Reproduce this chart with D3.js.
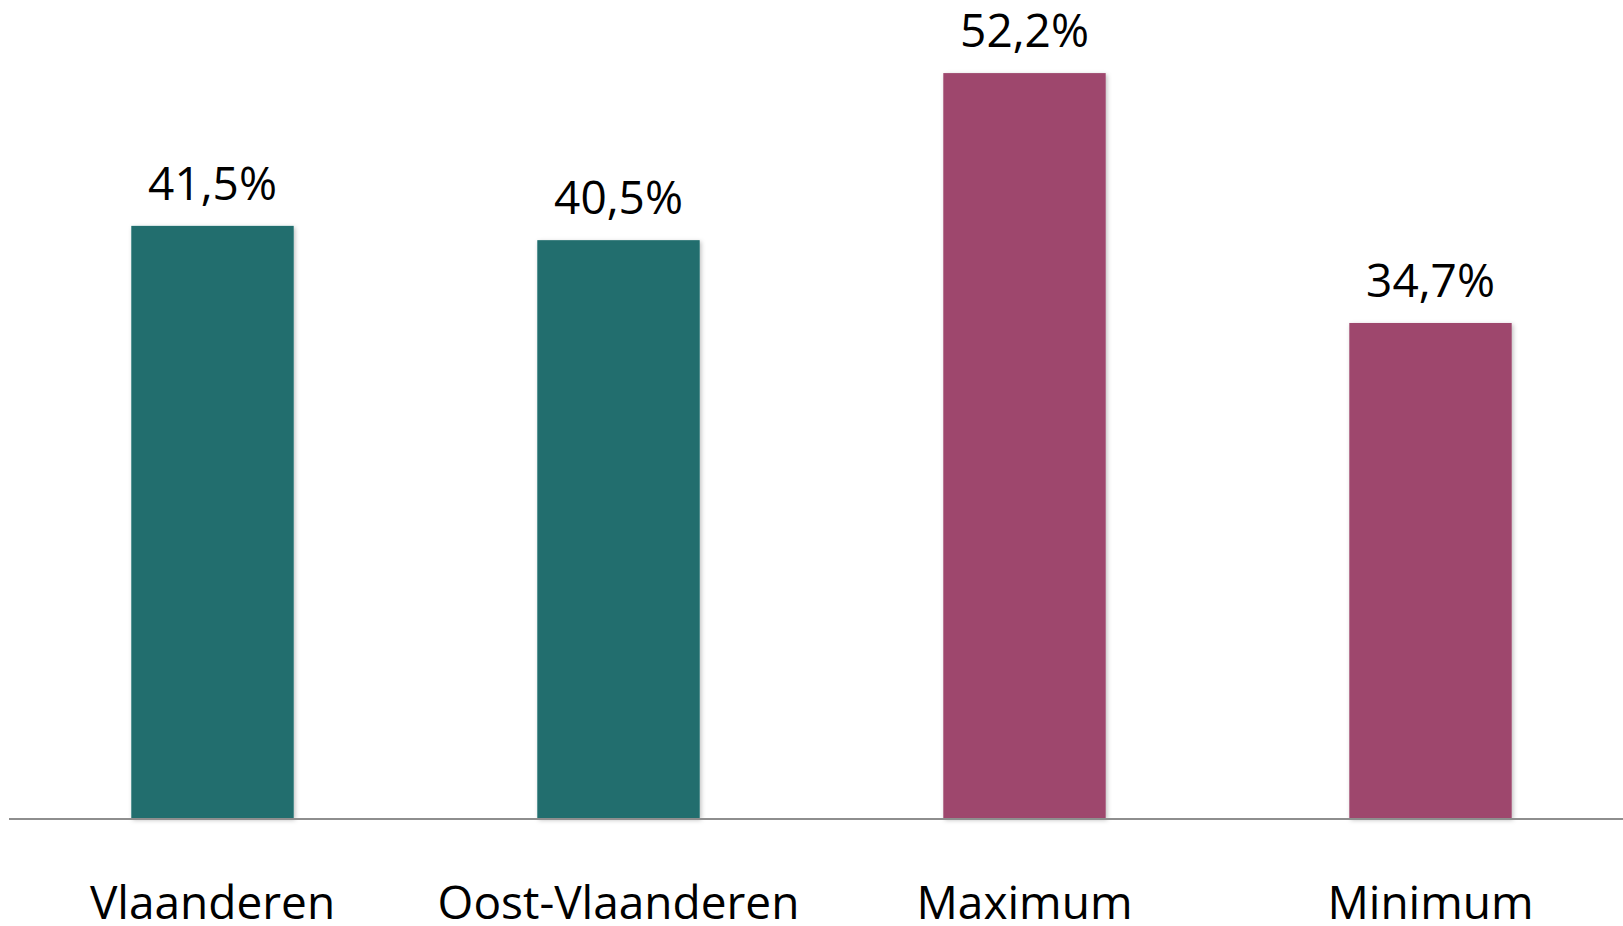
<!DOCTYPE html>
<html>
<head>
<meta charset="utf-8">
<script src="https://cdn.jsdelivr.net/npm/d3@7/dist/d3.min.js"></script>
<style>
html,body{margin:0;padding:0;background:#fff;}
svg{display:block;}
</style>
</head>
<body>
<svg id="chart" width="1623" height="926"></svg>
<script>
const categories = ["Vlaanderen", "Oost-Vlaanderen", "Maximum", "Minimum"];
const values = [41.5, 40.5, 52.2, 34.7];
const valueLabels = ["41,5%", "40,5%", "52,2%", "34,7%"];
const barColors = ["#206E6E", "#206E6E", "#9E476D", "#9E476D"];

const svg = d3.select("#chart");
const baseY = 818.5;

const x = d3.scaleBand()
  .domain(categories)
  .range([9.5, 1633.5])
  .paddingInner(0.6)
  .paddingOuter(0.3);

const y = d3.scaleLinear()
  .domain([0, 60])
  .range([baseY, baseY - 60 * 14.28]);

const defs = svg.append("defs");
const f = defs.append("filter").attr("id", "shadow")
  .attr("x", "-10%").attr("y", "-10%").attr("width", "120%").attr("height", "120%");
f.append("feDropShadow").attr("dx", 1.5).attr("dy", 1.5).attr("stdDeviation", 2)
  .attr("flood-color", "#000").attr("flood-opacity", 0.25);

const data = categories.map((c, i) => ({c, v: values[i], label: valueLabels[i], color: barColors[i]}));

svg.append("g").selectAll("rect").data(data).join("rect")
  .attr("x", d => x(d.c))
  .attr("y", d => y(d.v))
  .attr("width", x.bandwidth())
  .attr("height", d => y(0) - y(d.v))
  .attr("fill", d => d.color)
  .attr("filter", "url(#shadow)");

// baseline axis
svg.append("line")
  .attr("x1", 9).attr("x2", 1623)
  .attr("y1", y(0) + 0.5).attr("y2", y(0) + 0.5)
  .attr("stroke", "#8e8e8e").attr("stroke-width", 2);

const font = "'Open Sans', 'Noto Sans', sans-serif";

svg.append("g").selectAll("text").data(data).join("text")
  .attr("x", d => x(d.c) + x.bandwidth() / 2)
  .attr("y", d => y(d.v) - 26)
  .attr("text-anchor", "middle")
  .attr("font-family", font)
  .attr("font-size", 46)
  .attr("fill", "#000")
  .text(d => d.label);

svg.append("g").selectAll("text").data(data).join("text")
  .attr("x", d => x(d.c) + x.bandwidth() / 2)
  .attr("y", 918.5)
  .attr("text-anchor", "middle")
  .attr("font-family", font)
  .attr("font-size", 46)
  .attr("fill", "#000")
  .text(d => d.c);
</script>
</body>
</html>
